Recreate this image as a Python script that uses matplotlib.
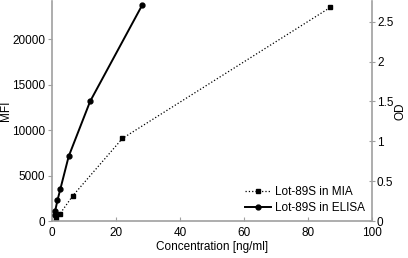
import matplotlib
matplotlib.use("Agg")
from matplotlib import pyplot as plt

plt.rcParams['font.family'] = ['Liberation Sans', 'DejaVu Sans']

# MIA data (left axis, MFI)
mia_conc = [1.35, 2.5, 6.5, 22.0, 87.0]
mia_mfi = [300, 800, 2780, 9080, 23500]

# ELISA data (right axis, OD)
elisa_conc = [0.8, 0.95, 1.7, 2.6, 5.2, 11.9, 28.2]
elisa_od = [0.075, 0.12, 0.26, 0.40, 0.81, 1.50, 2.71]

gray = '#a0a0a0'

fig = plt.figure(figsize=(4.08, 2.58), dpi=100)
ax = fig.add_axes([0.1275, 0.1434, 0.7845, 0.853])
ax2 = ax.twinx()

l1, = ax.plot(mia_conc, mia_mfi, ':', color='black', lw=0.9, marker='s', ms=2.5,
              label='Lot-89S in MIA')
l2, = ax2.plot(elisa_conc, elisa_od, '-', color='black', lw=1.4, marker='o', ms=3.5,
               label='Lot-89S in ELISA')

ax.set_xlim(0, 100)
ax.set_ylim(0, 24200)
ax2.set_ylim(0, 2.76)
ax.set_xticks([0, 20, 40, 60, 80, 100])
ax.set_yticks([0, 5000, 10000, 15000, 20000])
ax2.set_yticks([0, 0.5, 1, 1.5, 2, 2.5])
ax2.set_yticklabels(['0', '0.5', '1', '1.5', '2', '2.5'])

for a in (ax, ax2):
    a.spines['top'].set_visible(False)
    for s in ('left', 'right', 'bottom'):
        a.spines[s].set_color(gray)
        a.spines[s].set_linewidth(1.2)
    a.tick_params(colors=gray, labelcolor='black', labelsize=8.5, length=3, width=0.8)

ax.spines['right'].set_visible(False)
ax2.spines['left'].set_visible(False)
ax2.spines['bottom'].set_visible(False)
ax.tick_params(axis='x', direction='in', pad=4)
ax.tick_params(axis='y', direction='out', pad=2)
ax2.tick_params(axis='y', direction='inout', length=5, pad=1)

ax.set_xlabel('Concentration [ng/ml]', fontsize=8.5, labelpad=2)
ax.set_ylabel('MFI', fontsize=8.5, labelpad=0)
ax2.set_ylabel('OD', fontsize=8.5, labelpad=1)

ax2.legend([l1, l2], ['Lot-89S in MIA', 'Lot-89S in ELISA'], loc='lower right',
           bbox_to_anchor=(1.0, 0.0), frameon=False, fontsize=8.5,
           handlelength=2.2, handletextpad=0.3, borderaxespad=0.2, labelspacing=0.3)

plt.savefig('out.png', dpi=100)
